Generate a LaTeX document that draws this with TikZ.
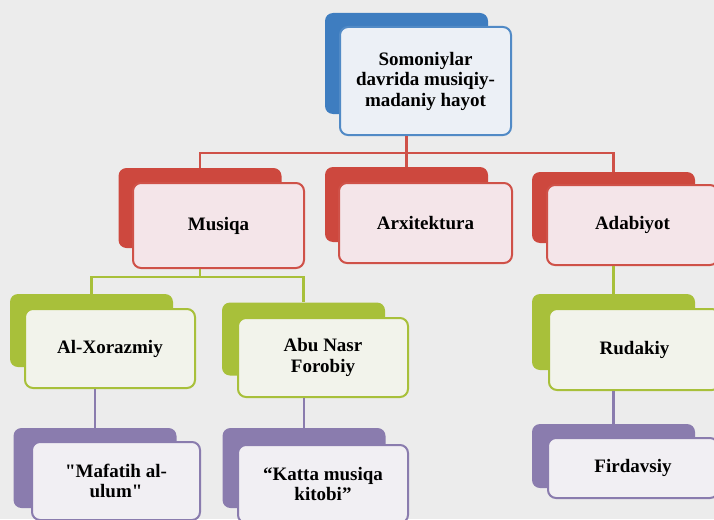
\documentclass[tikz,border=0pt]{standalone}
\usepackage{fontspec}
\setmainfont{Liberation Serif}[Ligatures=TeXOff]
\usepackage{tikz}
\usetikzlibrary{positioning,calc}
\usepackage{xcolor}
\definecolor{bgcolor}{RGB}{236,236,236}
\definecolor{bluecolor}{RGB}{62,125,192}
\definecolor{bluefill}{RGB}{236,240,246}
\definecolor{redcolor}{RGB}{205,72,62}
\definecolor{redfill}{RGB}{244,229,233}
\definecolor{greencolor}{RGB}{168,192,58}
\definecolor{greenfill}{RGB}{242,243,235}
\definecolor{purplecolor}{RGB}{138,124,174}
\definecolor{purplefill}{RGB}{241,239,243}

\begin{document}
\begin{tikzpicture}[
    x=1pt, y=-1pt,
    back/.style={rectangle, rounded corners=8pt, inner sep=0pt, minimum width=163pt},
    front/.style={rectangle, rounded corners=8pt, inner sep=0pt, line width=2pt, minimum width=171pt, align=center, font=\fontsize{19}{20.5}\selectfont\bfseries},
    bback/.style={back, fill=bluecolor},
    rback/.style={back, fill=redcolor},
    gback/.style={back, fill=greencolor},
    pback/.style={back, fill=purplecolor},
    bfront/.style={front, draw=bluecolor!90!white, fill=bluefill},
    rfront/.style={front, draw=redcolor!95!white, fill=redfill},
    gfront/.style={front, draw=greencolor, fill=greenfill},
    pfront/.style={front, draw=purplecolor, fill=purplefill},
    rline/.style={draw=redcolor!95!white, line width=2.4pt},
    gline/.style={draw=greencolor, line width=2.4pt},
    pline/.style={draw=purplecolor, line width=2.4pt}
]

% Page
\fill[bgcolor] (0,0) rectangle (714,519);
\useasboundingbox (0,0) rectangle (714,519);
\clip (0,0) rectangle (714,519);

% Back boxes
\node[bback, minimum height=101pt] (topB) at (406.5,63.5) {};
\node[rback, minimum height=80pt] (musiqaB) at (200,208) {};
\node[rback, minimum height=75pt] (arxB) at (406.5,204.5) {};
\node[rback, minimum height=71pt] (adabB) at (613.5,207.5) {};
\node[gback, minimum height=73pt] (xorazmB) at (91.5,330.5) {};
\node[gback, minimum height=73pt] (forobB) at (303.5,339) {};
\node[gback, minimum height=76pt] (rudakB) at (613.5,332) {};
\node[pback, minimum height=80pt] (mafatB) at (95,468) {};
\node[pback, minimum height=80pt] (kattaB) at (304,468) {};
\node[pback, minimum height=64pt] (firdB) at (613.5,456) {};

% Front boxes
\node[bfront, minimum height=108pt] (top) at (425.5,81) {Somoniylar\\davrida musiqiy-\\madaniy hayot};
\node[rfront, minimum height=85pt] (musiqa) at (218.5,225.5) {Musiqa};
\node[rfront, minimum height=80pt, minimum width=173pt] (arx) at (425.5,223) {Arxitektura};
\node[rfront, minimum height=80pt] (adab) at (632.5,225) {Adabiyot};
\node[gfront, minimum height=79pt, minimum width=170pt] (xorazm) at (110,348.5) {Al-Xorazmiy};
\node[gfront, minimum height=79pt, minimum width=170pt] (forob) at (323,357.5) {Abu Nasr\\Forobiy};
\node[gfront, minimum height=81pt] (rudak) at (634.5,349.5) {Rudakiy};
\node[pfront, minimum height=78pt, minimum width=168pt] (mafat) at (116,481) {"Mafatih al-\\ulum"};
\node[pfront, minimum height=78pt, minimum width=170pt] (katta) at (323,484) {“Katta musiqa\\kitobi”};
\node[pfront, minimum height=60pt, minimum width=170pt] (fird) at (633,468) {Firdavsiy};

% Connectors
\draw[rline] (top.south -| topB) -- ++(0,17) coordinate (rbus);
\draw[rline] (musiqaB.north) |- (rbus) -| (adabB.north);
\draw[rline] (rbus) -- (arxB.north);
\draw[gline] (musiqa.south -| musiqaB) -- ++(0,8) coordinate (gbus);
\draw[gline] (xorazmB.north) |- (gbus) -| (forobB.north);
\draw[gline] (adab.south -| rudakB) -- (rudakB.north);
\draw[pline] (xorazm.south -| mafatB) -- (mafatB.north);
\draw[pline] (forob.south -| kattaB) -- (kattaB.north);
\draw[pline] (rudak.south -| firdB) -- (firdB.north);

\end{tikzpicture}
\end{document}
